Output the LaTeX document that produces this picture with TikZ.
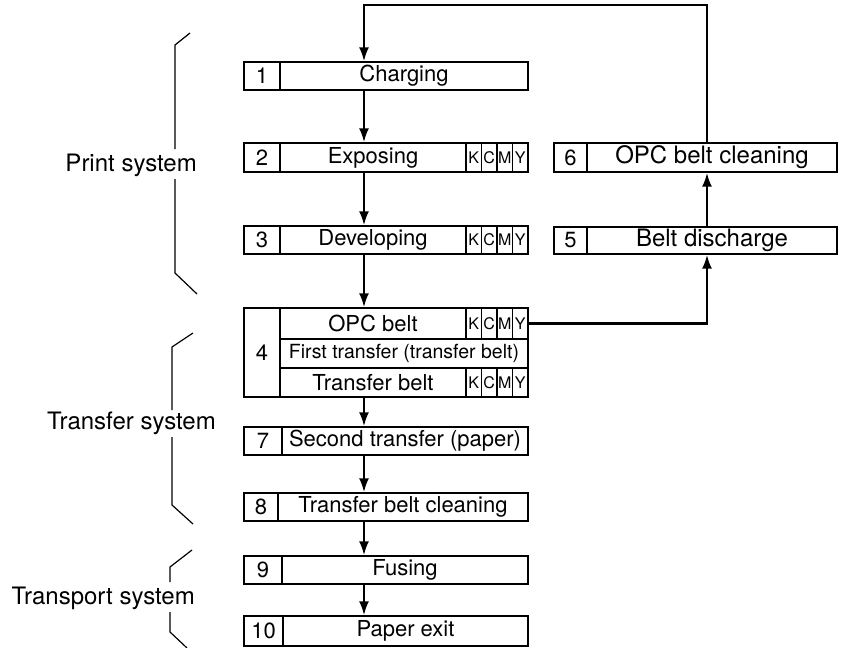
\documentclass[tikz,border=0pt]{standalone}
\usepackage{fontspec}
\setmainfont{TeX Gyre Heros}
\usetikzlibrary{arrows.meta}

\tikzset{
  cell/.style={draw, line width=1.4pt, inner sep=0pt, minimum height=28pt, font=\fontsize{22}{24}\selectfont},
  kcmy/.style={cell, minimum width=15.5pt, font=\fontsize{16}{18}\selectfont},
  flow/.style={line width=2.2pt, -{Latex[length=14pt,width=10pt]}},
  brace/.style={line width=1.2pt},
  group/.style={inner sep=0pt, anchor=east, font=\fontsize{24}{26}\selectfont},
}

\begin{document}
\begin{tikzpicture}[x=1pt,y=-1pt]
\useasboundingbox (0,0) rectangle (841,648);
\coordinate (col) at (364,0);
\coordinate (rcol) at (707,0);
\coordinate (top) at (0,5);

% left column
\node[cell, minimum width=36pt] (n1) at (262,76) {1};
\node[cell, minimum width=248pt] (b1) at (404,76) {Charging};

\node[cell, minimum width=36pt, minimum height=29pt] (n2) at (262,157.5) {2};
\node[cell, minimum width=186pt, minimum height=29pt] (b2) at (373,157.5) {Exposing};

\node[cell, minimum width=36pt] (n3) at (262,240) {3};
\node[cell, minimum width=186pt] (b3) at (373,240) {Developing};

\node[cell, minimum width=36pt, minimum height=89pt] (n4) at (262,352.5) {4};
\node[cell, minimum width=186pt, minimum height=31pt] (b4a) at (373,323.5) {OPC belt};
\node[cell, minimum width=248pt, minimum height=29pt, font=\fontsize{19.5}{22}\selectfont] (b4b) at (404,353.5) {First transfer (transfer belt)};
\node[cell, minimum width=186pt, minimum height=29pt] (b4c) at (373,382.5) {Transfer belt};

% colour cells
\foreach \c [count=\i] in {K,C,M,Y} {
  \node[kcmy, minimum height=29pt] (k2\i) at (458.25+15.5*\i,157.5) {\c};
  \node[kcmy] (k3\i) at (458.25+15.5*\i,240) {\c};
  \node[kcmy, minimum height=31pt] (k4a\i) at (458.25+15.5*\i,323.5) {\c};
  \node[kcmy, minimum height=29pt] (k4c\i) at (458.25+15.5*\i,382.5) {\c};
}

\node[cell, minimum width=38pt] (n7) at (263,441) {7};
\node[cell, minimum width=246pt] (b7) at (405,441) {Second transfer (paper)};

\node[cell, minimum width=34pt] (n8) at (261,507) {8};
\node[cell, minimum width=250pt] (b8) at (403,507) {Transfer belt cleaning};

\node[cell, minimum width=38pt] (n9) at (263,570) {9};
\node[cell, minimum width=246pt] (b9) at (405,570) {Fusing};

\node[cell, minimum width=39pt, minimum height=30pt] (n10) at (263.5,631) {10};
\node[cell, minimum width=245pt, minimum height=30pt] (b10) at (405.5,631) {Paper exit};

% right column
\node[cell, minimum width=33pt, minimum height=29pt] (n6) at (570.5,157.5) {6};
\node[cell, minimum width=250pt, minimum height=29pt, font=\fontsize{24}{26}\selectfont] (b6) at (712,157.5) {OPC belt cleaning};

\node[cell, minimum width=33pt, minimum height=27pt] (n5) at (570.5,240.5) {5};
\node[cell, minimum width=250pt, minimum height=27pt, font=\fontsize{24}{26}\selectfont] (b5) at (712,240.5) {Belt discharge};

% flow
\foreach \a/\b in {b1/b2, b2/b3, b3/b4a, b4c/b7, b7/b8, b8/b9, b9/b10}
  \draw[flow] (\a.south -| col) -- (\b.north -| col);
\draw[flow] (k4a4.east) -| (b5.south -| rcol);
\draw[flow] (b5.north -| rcol) -- (b6.south -| rcol);
\draw[flow] (b6.north -| rcol) -- (rcol |- top) -| (b1.north -| col);

% system brackets
\node[group] (print) at (197,165) {Print system};
\draw[brace] (190,33) -- (175,45) -- (175,149);
\draw[brace] (175,179) -- (175,273) -- (197,294);

\node[group] (transfer) at (216,423) {Transfer system};
\draw[brace] (193,333) -- (172,347) -- (172,410);
\draw[brace] (172,437) -- (172,505) -- (193,524);

\node[group] (transport) at (195,598) {Transport system};
\draw[brace] (192,550) -- (170,567) -- (170,582);
\draw[brace] (170,612) -- (170,632) -- (187,648);
\end{tikzpicture}
\end{document}
